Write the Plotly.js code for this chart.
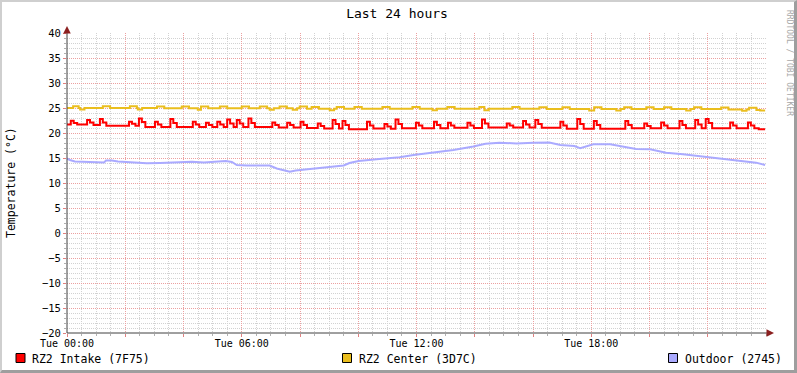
<!DOCTYPE html>
<html>
<head>
<meta charset="utf-8">
<script src="https://cdn.plot.ly/plotly-3.0.1.min.js"></script>
<style>
  html, body { margin:0; padding:0; background:#fff; }
  #wrap { position:relative; width:797px; height:373px; }
  #chart { width:797px; height:373px; }
  #frame { position:absolute; left:0; top:0; width:797px; height:373px; box-sizing:border-box;
           border-top:2px solid #CFCFCF; border-left:2px solid #CFCFCF;
           border-right:3px solid #9E9E9E; border-bottom:3px solid #9E9E9E; pointer-events:none; }
</style>
</head>
<body>
<div id="wrap"><div id="chart"></div><div id="frame"></div></div>
<script>
// ---- data (hours since Tue 00:00, °C) ----
const redT = [0,
 0.13,0.23,0.35, 0.69,0.79,0.91, 1.13,1.23,1.35, 2.13,2.23,2.35, 2.47,2.57,2.69,
 3.02,3.12,3.24, 3.55,3.65,3.77, 4.32,4.42,4.54, 4.77,4.87,4.99, 5.16,5.26,5.38,
 5.50,5.60,5.72, 5.83,5.93,6.05, 6.23,6.33,6.45, 7.05,7.15,7.27, 7.56,7.66,7.78,
 8.02,8.12,8.24, 8.61,8.71,8.83, 9.12,9.22,9.34, 9.46,9.56,9.68, 10.30,10.40,10.52,
 10.90,11.00,11.12, 11.28,11.38,11.50, 11.98,12.08,12.20, 12.60,12.70,12.82,
 13.08,13.18,13.30, 13.75,13.85,13.97, 14.25,14.35,14.47, 15.10,15.20,15.32,
 15.66,15.76,15.88, 16.08,16.18,16.30, 16.94,17.04,17.16, 17.52,17.62,17.74,
 18.09,18.19,18.31, 19.17,19.27,19.39, 19.82,19.92,20.04, 20.40,20.50,20.62,
 21.03,21.13,21.25, 21.57,21.67,21.79, 21.93,22.03,22.15, 22.77,22.87,22.99,
 23.38,23.48,23.60, 23.75, 23.97];
const redV = [21.7,
 22.45,22.0,21.7, 22.6,22.1,21.6, 22.8,22.1,21.45, 22.25,21.85,21.45, 22.9,22.2,21.2,
 22.25,21.7,21.2, 22.8,22.0,21.2, 22.25,21.7,21.2, 22.05,21.6,21.2, 22.25,21.7,21.2,
 22.7,21.9,21.2, 22.6,21.9,21.2, 22.9,22.0,21.2, 22.1,21.6,21.1, 22.05,21.6,21.1,
 22.25,21.6,21.0, 21.9,21.4,20.9, 22.6,21.8,20.9, 22.4,21.6,20.75, 22.25,21.5,20.9,
 21.8,21.3,20.85, 22.7,21.8,20.95, 22.05,21.5,20.95, 22.25,21.6,20.95,
 22.05,21.5,21.05, 22.05,21.5,21.0, 22.7,21.9,21.1, 21.9,21.5,21.1,
 22.4,21.7,21.1, 22.6,21.8,21.05, 22.25,21.5,20.85, 22.8,21.8,20.85,
 22.4,21.6,20.85, 22.4,21.6,20.95, 21.9,21.4,20.95, 22.1,21.5,20.95,
 22.4,21.6,20.95, 22.6,21.7,20.95, 22.8,22.0,20.95, 22.1,21.5,20.95,
 22.1,21.5,20.95, 20.75, 20.75];

const yelT = [0, 0.21,0.40, 0.45,0.60, 1.23,1.48, 2.16,2.40, 2.43,2.58, 3.09,3.34, 3.94,4.19,
 4.49,4.60,4.85, 5.25,5.50, 6.00,6.25, 6.62,6.87, 6.96,7.10, 7.30,7.55, 7.75,7.90,
 7.99,8.24, 8.40,8.65, 9.02,9.17, 9.26,9.51, 9.87,10.12, 10.83,11.08, 11.86,12.11,
 12.55,12.70, 13.06,13.31, 14.16,14.33,14.48, 15.29,15.54, 16.22,16.47, 17.01,17.26,
 17.93,18.10,18.35, 18.86,19.01, 19.13,19.38, 19.89,20.14, 20.50,20.75, 21.26,21.41,
 21.53,21.78, 22.46,22.71, 23.18,23.33, 23.42,23.67, 23.80, 23.97];
const yelV = [25.0, 25.35,25.0, 24.7,25.0, 25.35,25.0, 25.35,25.0, 24.7,25.0, 25.3,24.95, 25.3,24.95,
 24.65,25.3,24.95, 25.3,24.95, 25.3,24.95, 25.3,24.95, 24.65,24.95, 25.3,24.95, 24.65,24.95,
 25.3,24.85, 25.2,24.85, 24.55,24.85, 25.2,24.85, 25.2,24.85, 25.2,24.85, 25.2,24.85,
 24.55,24.85, 25.2,24.85, 25.2,24.55,24.85, 25.2,24.85, 25.15,24.8, 25.15,24.8,
 24.5,25.15,24.8, 24.5,24.8, 25.15,24.8, 25.15,24.8, 25.15,24.8, 24.5,24.8,
 25.15,24.8, 25.1,24.7, 24.45,24.7, 25.05,24.6, 24.5, 24.5];

const bluT = [0,0.10,0.27,0.62,0.96,1.27,1.34,1.54,1.75,2.16,2.74,3.19,3.70,4.29,4.70,5.07,5.45,5.66,
 5.83,6.17,6.96,7.20,7.47,7.65,7.85,8.02,8.57,9.05,9.50,9.70,10.01,10.63,11.42,11.90,12.79,
 13.27,13.95,14.37,14.85,15.43,16.01,16.56,16.94,17.42,17.62,17.83,18.07,18.65,18.89,19.17,
 19.54,20.02,20.57,21.15,21.84,22.53,23.21,23.66,23.97];
const bluV = [14.9,14.6,14.3,14.2,14.15,14.1,14.5,14.5,14.3,14.2,13.95,14.0,14.1,14.25,14.1,14.2,14.4,14.2,
 13.6,13.5,13.5,12.9,12.6,12.27,12.5,12.6,12.93,13.27,13.5,14.0,14.4,14.73,15.13,15.6,16.3,
 16.6,17.3,17.85,18.07,17.9,18.07,18.1,17.6,17.4,16.95,17.3,17.73,17.73,17.5,17.13,
 16.8,16.73,16.07,15.73,15.27,14.8,14.47,14.07,13.6];

const seriesNames = ['RZ2 Intake (7F75)', 'RZ2 Center (3D7C)', 'Outdoor (2745)'];
const seriesColors = ['#FF0000', '#EABE1E', '#AAAAFF'];
const xTickVals = [0,2,4,6,8,10,12,14,16,18,20,22];
const xTickText = ['Tue 00:00','','','Tue 06:00','','','Tue 12:00','','','Tue 18:00','',''];

// ---- layout helpers ----
const W = 797, H = 373, L = 67, R = 31, T = 33, B = 40;
const PW = W - L - R, PH = H - T - B;
const px = v => (v - L) / PW;
const py = v => (H - B - v) / PH;
const MONO = 'DejaVu Sans Mono';

const traces = [
  {x: yelT, y: yelV, mode:'lines', line:{color:seriesColors[1], width:2, shape:'hv'}, name:seriesNames[1]},
  {x: redT, y: redV, mode:'lines', line:{color:seriesColors[0], width:2, shape:'hv'}, name:seriesNames[0]},
  {x: bluT, y: bluV, mode:'lines', line:{color:seriesColors[2], width:2}, name:seriesNames[2]}
];

const legendX = [30, 357, 683];
const boxX = [16, 342.5, 668.5];
const shapes = [
  {type:'line', xref:'paper', yref:'paper', x0:0, x1:px(771), y0:0, y1:0, line:{color:'#404040', width:1}},
  {type:'line', xref:'paper', yref:'paper', x0:0, x1:0, y0:0, y1:py(29), line:{color:'#404040', width:1}}
];
const annotations = [
  {xref:'paper', yref:'paper', x:px(774), y:0, ax:-8, ay:0, axref:'pixel', ayref:'pixel', text:'', showarrow:true, arrowhead:2, arrowsize:1, arrowwidth:1.5, arrowcolor:'#8B2020'},
  {xref:'paper', yref:'paper', x:0, y:py(26), ax:0, ay:8, text:'', showarrow:true, arrowhead:2, arrowsize:1, arrowwidth:1.5, arrowcolor:'#8B2020'},
  {xref:'paper', yref:'paper', x:px(11), y:0.5, xanchor:'center', yanchor:'middle', text:'Temperature (°C)', textangle:-90, showarrow:false,
   font:{family:MONO, size:11.5, color:'#000'}},
  {xref:'paper', yref:'paper', x:px(789), y:py(63), xanchor:'center', yanchor:'middle', text:'RRDTOOL / TOBI OETIKER', textangle:90, showarrow:false,
   font:{family:MONO, size:8, color:'#A8A8A8'}}
];
for (let i = 0; i < 3; i++) {
  shapes.push({type:'rect', xref:'paper', yref:'paper', x0:px(boxX[i]), x1:px(boxX[i]+9), y0:py(353.5), y1:py(362.5),
               fillcolor:seriesColors[i], line:{color:'#000', width:1}});
  annotations.push({xref:'paper', yref:'paper', x:px(legendX[i]), y:py(358.5), xanchor:'left', yanchor:'middle',
                    text:seriesNames[i], showarrow:false, font:{family:MONO, size:11.5, color:'#000'}});
}

const layout = {
  width: W, height: H,
  margin: {l:L, r:R, t:T, b:B, pad:0},
  paper_bgcolor:'#FFFFFF', plot_bgcolor:'#FFFFFF',
  showlegend:false,
  title: {text:'Last 24 hours', font:{family:MONO, size:13, color:'#000'},
          xref:'container', yref:'container', x:397/W, y:1-13/H, xanchor:'center', yanchor:'middle'},
  xaxis: {range:[0,24], tickmode:'array', tickvals:xTickVals, ticktext:xTickText,
          showgrid:true, gridcolor:'#ECA0A0', griddash:'1px,1px', gridwidth:1,
          ticks:'outside', ticklen:3, tickcolor:'#E08080', ticklabelstandoff:-2,
          tickfont:{family:MONO, size:10, color:'#000'},
          minor:{dtick:0.5, showgrid:true, gridcolor:'#D2D2D2', griddash:'1px,1px', ticks:'outside', ticklen:2, tickcolor:'#B0B0B0'},
          zeroline:false, showline:false, fixedrange:true},
  yaxis: {range:[-20,40], dtick:5, tick0:0,
          showgrid:true, gridcolor:'#ECA0A0', griddash:'1px,1px', gridwidth:1,
          ticks:'outside', ticklen:3, tickcolor:'#E08080', tickfont:{family:MONO, size:10.5, color:'#000'},
          minor:{dtick:1, showgrid:true, gridcolor:'#D2D2D2', griddash:'1px,1px', ticks:'outside', ticklen:2, tickcolor:'#B0B0B0'},
          zeroline:false, showline:false, fixedrange:true},
  shapes: shapes,
  annotations: annotations
};

Plotly.newPlot('chart', traces, layout, {displayModeBar:false, staticPlot:true});
</script>
</body>
</html>
